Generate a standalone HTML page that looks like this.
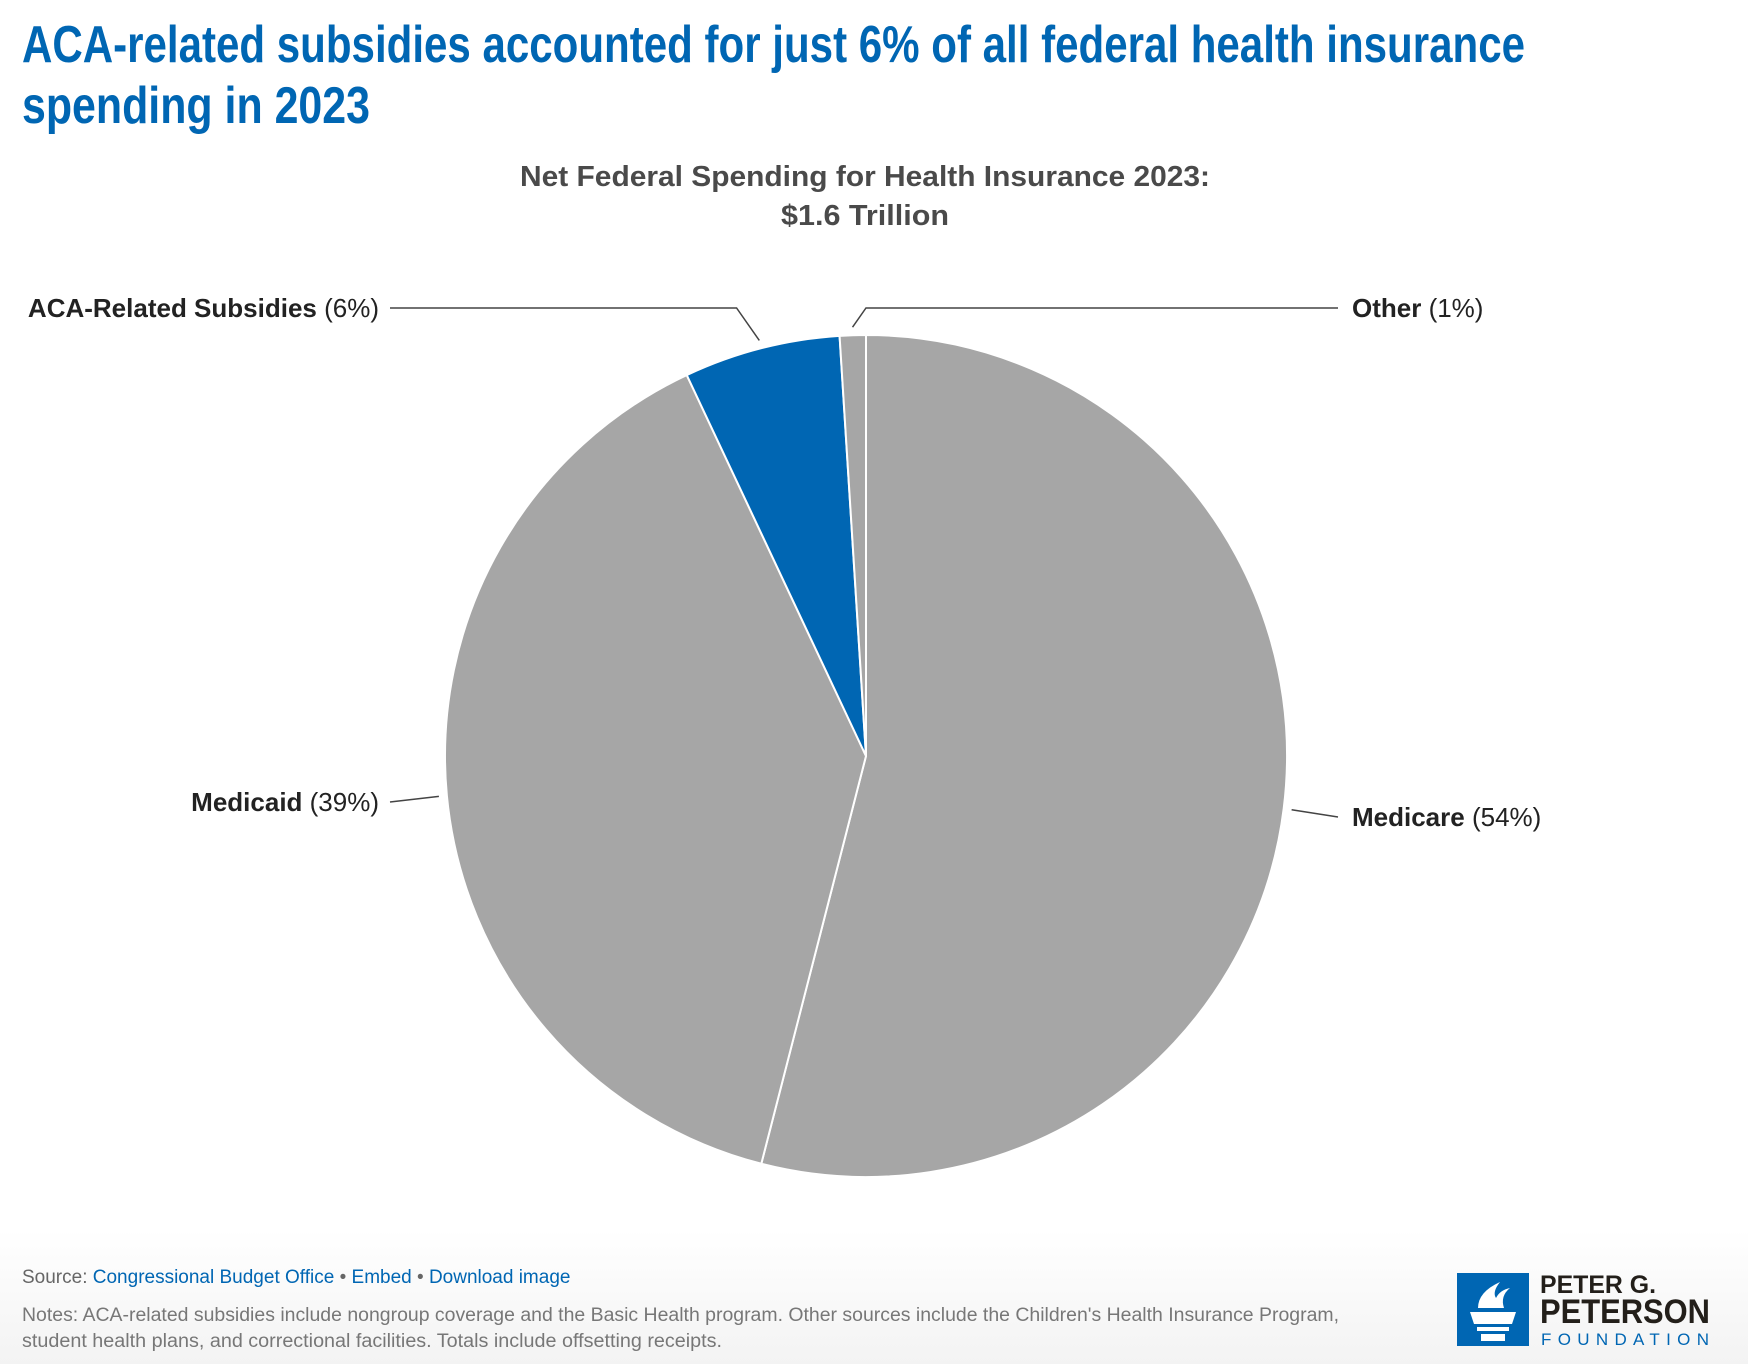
<!DOCTYPE html>
<html><head><meta charset="utf-8">
<style>
html,body{margin:0;padding:0;background:#fff;}
svg{display:block;font-family:"Liberation Sans",sans-serif;}
</style></head>
<body>
<svg id="chart" width="1748" height="1364" viewBox="0 0 1748 1364">
<defs><linearGradient id="bg" x1="0" y1="0" x2="0" y2="1"><stop offset="0" stop-color="#fff"/><stop offset="1" stop-color="#f3f3f3"/></linearGradient></defs>
<rect x="0" y="1230" width="1748" height="134" fill="url(#bg)"/>
<text x="22" y="62" font-size="52" font-weight="bold" fill="#0066b3" textLength="1503" lengthAdjust="spacingAndGlyphs">ACA-related subsidies accounted for just 6% of all federal health insurance</text>
<text x="22" y="123" font-size="52" font-weight="bold" fill="#0066b3" textLength="348" lengthAdjust="spacingAndGlyphs">spending in 2023</text>
<text x="865" y="186" font-size="29" font-weight="bold" fill="#4a4a4a" text-anchor="middle" textLength="690" lengthAdjust="spacingAndGlyphs">Net Federal Spending for Health Insurance 2023:</text>
<text x="865" y="225" font-size="29" font-weight="bold" fill="#4a4a4a" text-anchor="middle" textLength="168" lengthAdjust="spacingAndGlyphs">$1.6 Trillion</text>
<g id="slices"></g>
<g id="labels" font-size="26" fill="#222"></g>
<text x="22" y="1283" font-size="19" fill="#666">Source: <tspan fill="#0066b3">Congressional Budget Office</tspan> • <tspan fill="#0066b3">Embed</tspan>  • <tspan fill="#0066b3">Download image</tspan></text>
<text x="22" y="1321" font-size="19" fill="#777" textLength="1317" lengthAdjust="spacingAndGlyphs">Notes: ACA-related subsidies include nongroup coverage and the Basic Health program. Other sources include the Children's Health Insurance Program,</text>
<text x="22" y="1347" font-size="19" fill="#777" textLength="700" lengthAdjust="spacingAndGlyphs">student health plans, and correctional facilities. Totals include offsetting receipts.</text>
<g>
<rect x="1457" y="1273" width="72" height="73" fill="#0066b3"/>
<path d="M1470 1312 h46 l-4 12 h-38z M1477 1327 h32 v4 h-32z M1481 1334 h24 v7 h-24z" fill="#fff"/>
<path d="M1478 1308 q0-16 22-26 q-8 10-4 16 q4-8 14-10 q-10 8-6 20z" fill="#fff"/>
<text x="1540" y="1293" font-size="25" font-weight="bold" fill="#231f1a" textLength="116" lengthAdjust="spacingAndGlyphs">PETER G.</text>
<text x="1540" y="1323" font-size="34" font-weight="bold" fill="#231f1a" textLength="170" lengthAdjust="spacingAndGlyphs">PETERSON</text>
<text x="1541" y="1345" font-size="17" fill="#0066b3" textLength="168" lengthAdjust="spacing">FOUNDATION</text>
</g>
</svg>
<script>
const categories = ["Medicare", "Medicaid", "ACA-Related Subsidies", "Other"];
const values = [54, 39, 6, 1];
const valueLabels = ["54%", "39%", "6%", "1%"];
const colors = ["#a6a6a6", "#a6a6a6", "#0066b3", "#a6a6a6"];
const cx = 866, cy = 756, r = 421;
const NS = "http://www.w3.org/2000/svg";
const total = values.reduce((a,b)=>a+b,0);
function pt(frac, rad){ const a = frac*2*Math.PI; return [cx + rad*Math.sin(a), cy - rad*Math.cos(a)]; }
const gS = document.getElementById("slices");
let cum = 0;
values.forEach((v,i)=>{
  const f0 = cum/total, f1 = (cum+v)/total; cum += v;
  const [x0,y0] = pt(f0,r), [x1,y1] = pt(f1,r);
  const large = (f1-f0) > 0.5 ? 1 : 0;
  const p = document.createElementNS(NS,"path");
  p.setAttribute("d", `M${cx},${cy} L${x0},${y0} A${r},${r} 0 ${large} 1 ${x1},${y1} Z`);
  p.setAttribute("fill", colors[i]);
  p.setAttribute("stroke", "#fff");
  p.setAttribute("stroke-width", "2");
  
  
  gS.appendChild(p);
});
const gL = document.getElementById("labels");
const sides = [1, -1, -1, 1];
const labelY = [826, 811, 317, 317];
cum = 0;
values.forEach((v,i)=>{
  const mid = (cum + v/2)/total; cum += v;
  const [ax,ay] = pt(mid, r+8);
  const side = sides[i];
  const ly = labelY[i] - 9;
  const lx = side > 0 ? 1338 : 390;
  const line = document.createElementNS(NS,"polyline");
  let pts;
  if (Math.abs(ay - ly) > 12) { pts = `${ax},${ay} ${ax + side*0.7*(ay-ly)},${ly} ${lx},${ly}`; }
  else { pts = `${ax},${ay} ${lx},${ly}`; }
  line.setAttribute("points", pts);
  line.setAttribute("fill","none");
  line.setAttribute("stroke","#444");
  line.setAttribute("stroke-width","1.5");
  
  
  gL.appendChild(line);
  const t = document.createElementNS(NS,"text");
  t.setAttribute("x", side > 0 ? 1352 : 379);
  t.setAttribute("y", labelY[i]);
  t.setAttribute("text-anchor", side > 0 ? "start" : "end");
  t.innerHTML = `<tspan font-weight="bold">${categories[i]}</tspan> (${valueLabels[i]})`;
  
  
  gL.appendChild(t);
});
</script>
</body></html>
